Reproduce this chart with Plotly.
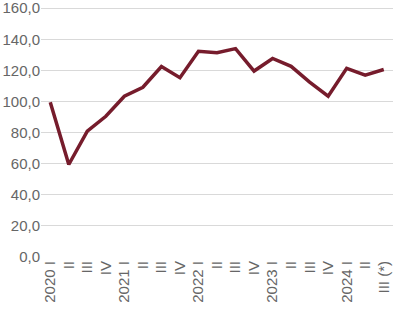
import plotly.graph_objects as go

categories = ["2020 I", "II", "III", "IV",
              "2021 I", "II ", "III ", "IV ",
              "2022 I", "II  ", "III  ", "IV  ",
              "2023 I", "II   ", "III   ", "IV   ",
              "2024 I", "II    ", "III (*)"]
values = [99.5, 59.5, 81.0, 90.5,
          103.4, 109.2, 122.5, 115.3,
          132.3, 131.4, 134.0, 119.6,
          127.7, 122.6, 112.5, 103.4,
          121.3, 117.0, 120.6]
ytick_vals = [0, 20, 40, 60, 80, 100, 120, 140, 160]

fig = go.Figure()
fig.add_trace(go.Scatter(
    x=list(range(len(categories))), y=values, mode="lines",
    line=dict(color="#761C2C", width=3.5),
    hoverinfo="skip",
))

fig.update_layout(
    template="none",
    width=393, height=311,
    margin=dict(l=41, r=0, t=2, b=54, autoexpand=False),
    paper_bgcolor="white", plot_bgcolor="white",
    showlegend=False,
    font=dict(family="Liberation Sans", size=15, color="#666666"),
)
fig.update_xaxes(
    tickmode="array", tickvals=list(range(len(categories))),
    ticktext=[c.strip() for c in categories],
    range=[-0.5, len(categories) - 0.5], automargin=False,
    tickangle=-90, showgrid=False, zeroline=False, showline=False,
    ticks="", ticklabeloverflow="allow",
    tickfont=dict(family="Liberation Sans", size=15, color="#666666"),
)
fig.update_yaxes(
    range=[0, 164], tickmode="array", automargin=False,
    tickvals=ytick_vals, ticktext=[f"{v},0" for v in ytick_vals],
    showgrid=True, gridcolor="#D9D9D9", gridwidth=1,
    zeroline=False, showline=False, ticks="", ticklabeloverflow="allow",
    tickfont=dict(family="Liberation Sans", size=15, color="#666666"),
)
fig.write_html("out.html")
